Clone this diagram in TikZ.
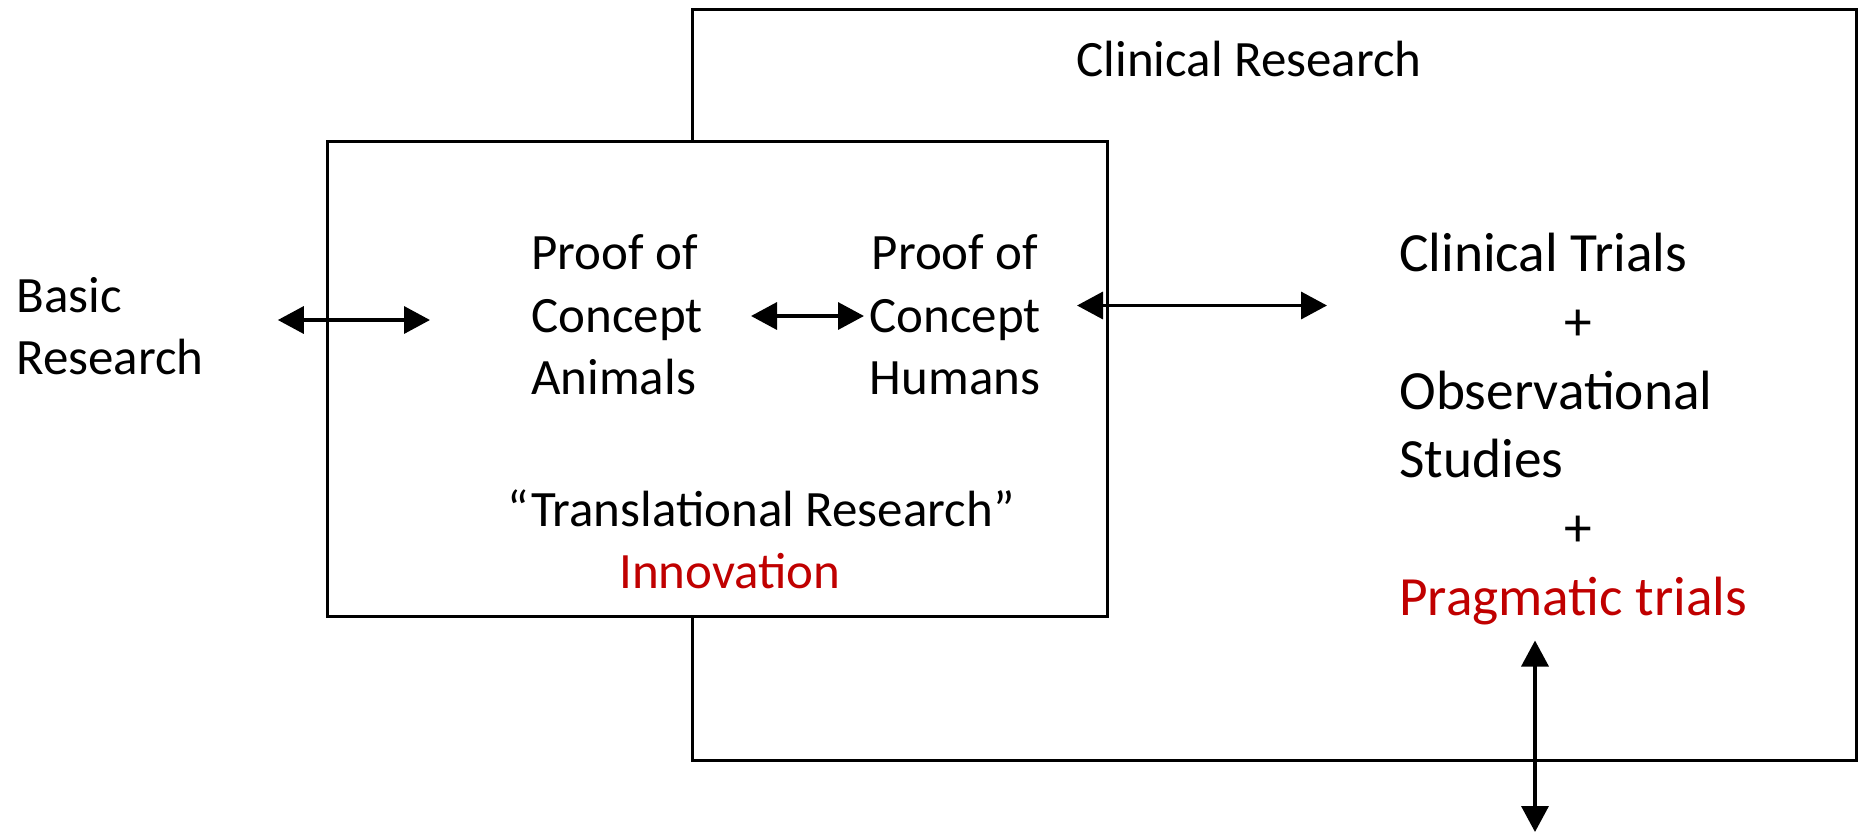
\documentclass[tikz,border=0pt]{standalone}
\usepackage{fontspec}
\setmainfont{Carlito}
\usetikzlibrary{arrows.meta,positioning}
\definecolor{innovred}{RGB}{192,0,0}

\begin{document}
\begin{tikzpicture}[x=0.02cm, y=-0.02cm,
    box/.style={draw, line width=1.7pt, inner sep=0pt},
    txt/.style={inner sep=0pt, font=\fontsize{29}{35.5}\selectfont},
    bigtxt/.style={inner sep=0pt, align=left, font=\fontsize{31.5}{39.2}\selectfont},
    biarrow/.style={{Triangle[length=0.52cm,width=0.54cm]}-{Triangle[length=0.52cm,width=0.54cm]}, line width=2pt}]
    \useasboundingbox (0,0) rectangle (1864,833);

    % boxes
    \node[box, minimum width=23.3cm, minimum height=15.03cm] (clinbox) at (1274.5,385) {};
    \node[box, fill=white, minimum width=15.62cm, minimum height=9.51cm] (transbox) at (717.5,379) {};

    % labels
    \node[txt] (clinical) at (1249,59) {Clinical Research};
    \node[txt, align=left, anchor=west] (basic) at (16,326) {Basic\\Research};
    \node[txt, align=left, anchor=west] (animals) at (531,315) {Proof of\\Concept\\Animals};
    \node[txt, align=center] (humans) at (955,315) {Proof of\\Concept\\Humans};
    \node[txt] (translational) at (761,508) {“Translational Research”};
    \node[txt, text=innovred] (innovation) at (730,571) {Innovation};
    \node[bigtxt, anchor=west] (trials) at (1399,429) {Clinical Trials\\
        \hspace*{2.98em}+\\
        Observational\\
        Studies\\
        \hspace*{2.98em}+\\
        \textcolor{innovred}{Pragmatic trials}};
    \coordinate (outside) at (1535,832);

    % connectors
    \draw[biarrow] ([shift={(74,-6)}]basic.east) -- ([shift={(-101,5)}]animals.west);
    \draw[biarrow] ([shift={(48,1)}]animals.east) -- ([shift={(-5,1)}]humans.west);
    \draw[biarrow] ([shift={(36,-9.5)}]humans.east) -- ([shift={(-72,-123.5)}]trials.west);
    \draw[biarrow, shorten <=0.3cm] (trials.south -| outside) -- (outside);
\end{tikzpicture}
\end{document}
